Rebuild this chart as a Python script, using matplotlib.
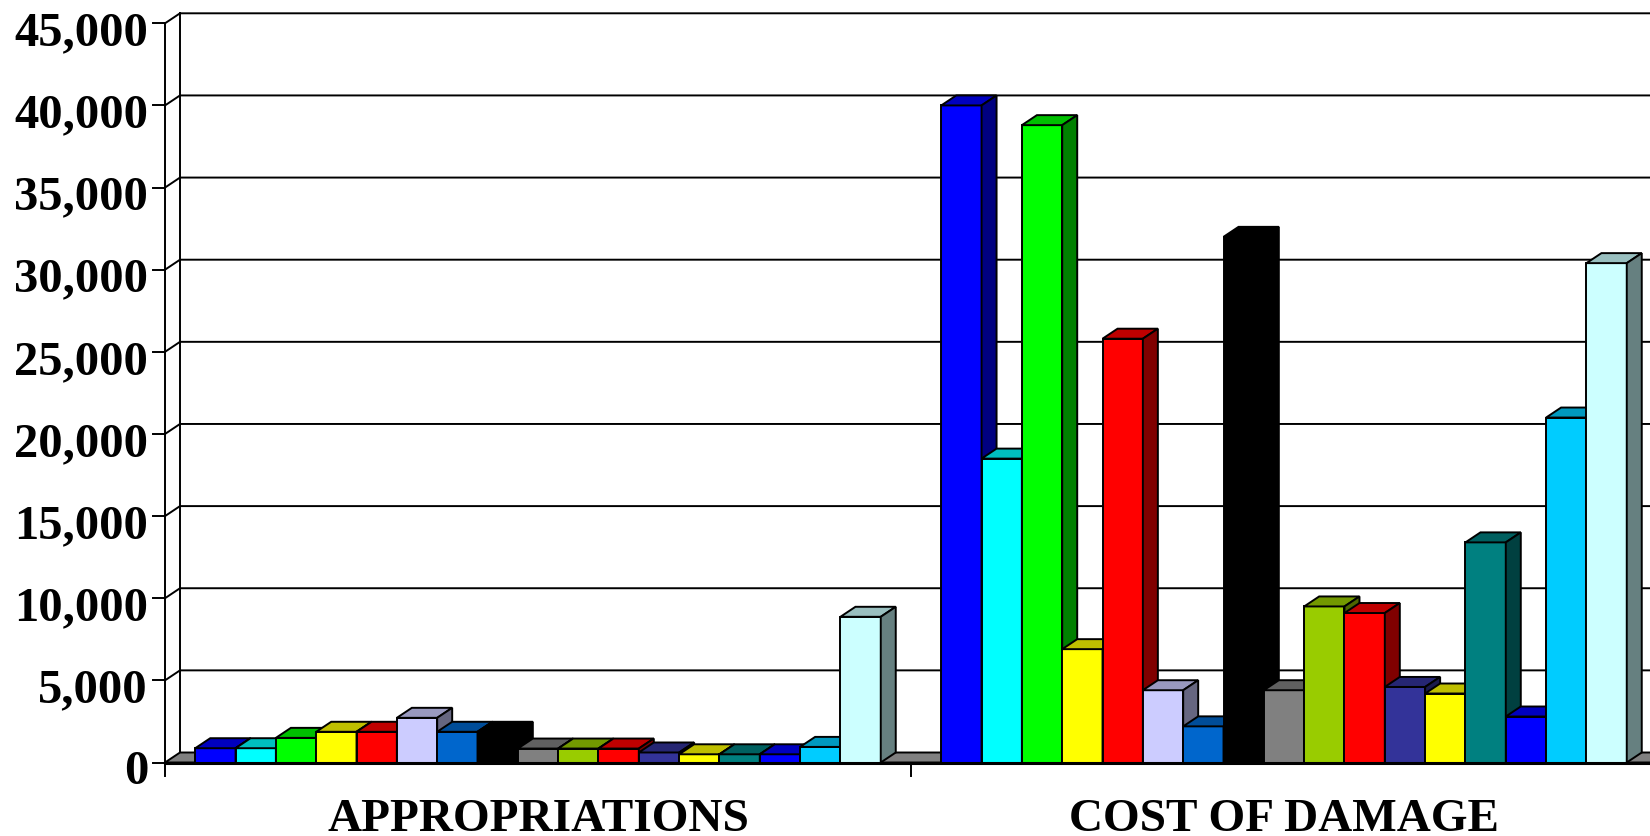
import matplotlib
matplotlib.use("Agg")
import matplotlib.pyplot as plt
import numpy as np
from matplotlib.colors import to_rgb
from matplotlib.patches import Polygon

# Data
# -----------------------------------------------------------
categories = ["APPROPRIATIONS", "COST OF DAMAGE"]

series_colors = [
    "#0000FF", "#00FFFF", "#00FF00", "#FFFF00", "#FF0000", "#CCCCFF",
    "#0066CC", "#000000", "#808080", "#99CC00", "#FF0000", "#333399",
    "#FFFF00", "#008080", "#0000FF", "#00CCFF", "#CCFFFF",
]

appropriations = [870, 870, 1500, 1870, 1870, 2720, 1870, 1870, 850,
                  850, 850, 610, 500, 500, 500, 950, 8870]
cost_of_damage = [40000, 18500, 38800, 6900, 25800, 4400, 2200, 32000, 4400,
                  9500, 9100, 4600, 4200, 13400, 2800, 21000, 30400]

y_ticks = [0, 5000, 10000, 15000, 20000, 25000, 30000, 35000, 40000, 45000]
y_tick_labels = ["0", "5,000", "10,000", "15,000", "20,000", "25,000",
                 "30,000", "35,000", "40,000", "45,000"]

values = [appropriations, cost_of_damage]

# Layout
# -----------------------------------------------------------
W, H, DPI = 1650, 837, 100
fig = plt.figure(figsize=(W / DPI, H / DPI), dpi=DPI)
fig.patch.set_facecolor("white")

ax_left, ax_bottom = 165, 73.5          # pixels
ax_w, ax_h = 1492, 739.2
ax = fig.add_axes([ax_left / W, ax_bottom / H, ax_w / W, ax_h / H])
ymax = y_ticks[-1]
ax.set_xlim(0, len(categories))
ax.set_ylim(0, ymax)
ax.axis("off")

# 3-D depth offset, converted from pixels to data units
px_x = ax_w / len(categories)
px_y = ax_h / ymax
dx, dy = 15 / px_x, 10 / px_y

LW = 1.4
font = dict(family="Liberation Serif", weight="bold")

# Walls, gridlines and ticks
for v, lab in zip(y_ticks, y_tick_labels):
    if v > 0:
        ax.plot([0, dx, len(categories) + dx], [v, v + dy, v + dy],
                color="black", lw=LW, clip_on=False, zorder=1,
                solid_joinstyle="miter")
    ax.plot([-12 / px_x, 0], [v, v], color="black", lw=LW, clip_on=False, zorder=1)
    ax.annotate(lab, (0, v), xytext=(-17, -21), textcoords="offset pixels",
                ha="right", va="baseline", fontsize=35, **font)

ax.plot([0, 0], [-13 / px_y, ymax], color="black", lw=LW, clip_on=False, zorder=1)
ax.plot([dx, dx], [dy, ymax + dy], color="black", lw=LW, clip_on=False, zorder=1)
for i in range(1, len(categories) + 1):
    ax.plot([i, i], [-13 / px_y, 0], color="black", lw=LW, clip_on=False, zorder=1)

# Floor
n_cat = len(categories)
floor = Polygon([(0, 0), (n_cat, 0), (n_cat + dx, dy), (dx, dy)],
                closed=True, facecolor="#808080", edgecolor="black",
                lw=LW, clip_on=False, zorder=2)
ax.add_patch(floor)


def shade(color, k):
    return tuple(np.array(to_rgb(color)) * k)


def draw_bar(x0, w, h, color):
    front = [(x0, 0), (x0 + w, 0), (x0 + w, h), (x0, h)]
    top = [(x0, h), (x0 + w, h), (x0 + w + dx, h + dy), (x0 + dx, h + dy)]
    side = [(x0 + w, 0), (x0 + w + dx, dy), (x0 + w + dx, h + dy), (x0 + w, h)]
    for pts, k in ((front, 1.0), (top, 0.75), (side, 0.5)):
        ax.add_patch(Polygon(pts, closed=True, facecolor=shade(color, k),
                             edgecolor="black", lw=LW, clip_on=False,
                             zorder=3, joinstyle="miter"))


n_series = len(series_colors)
bar_w = 1 / (n_series + 1.5)
offset = 0.75 * bar_w
for ci, vals in enumerate(values):
    for si, (v, c) in enumerate(zip(vals, series_colors)):
        draw_bar(ci + offset + si * bar_w, bar_w, v, c)

# thick front edge of the floor
ax.plot([0, n_cat], [0, 0], color="black", lw=2.2, clip_on=False, zorder=4)

for ci, name in enumerate(categories):
    ax.annotate(name, (ci + 0.5, 0), xytext=(0, -68), textcoords="offset pixels",
                ha="center", va="baseline", fontsize=34, **font)

fig.savefig("out.png", dpi=DPI)
